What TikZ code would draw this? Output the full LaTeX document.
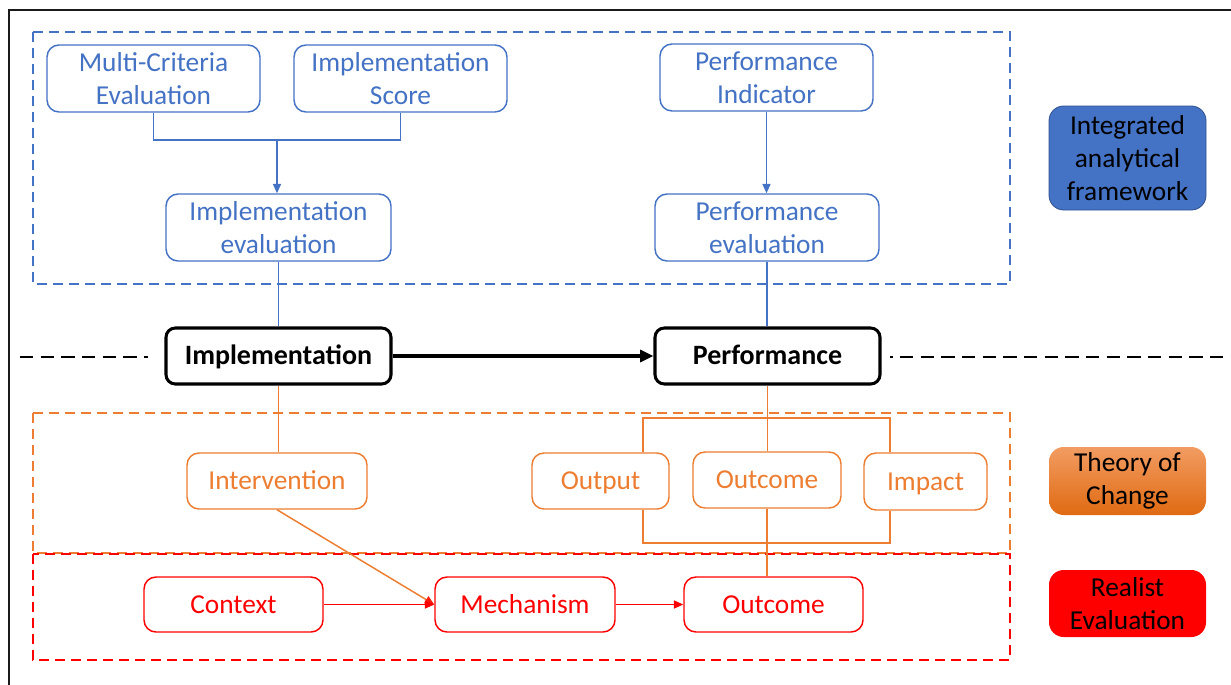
\documentclass[tikz,border=0pt]{standalone}
\usepackage{fontspec}
\setmainfont{Carlito}
\usetikzlibrary{arrows.meta}
\definecolor{fwblue}{HTML}{4472C4}
\definecolor{fwblueedge}{HTML}{2F528F}
\definecolor{tocorange}{HTML}{ED7D31}
\definecolor{toctop}{HTML}{F29C62}
\definecolor{tocbot}{HTML}{E06A12}
\definecolor{rered}{HTML}{FF0000}
\definecolor{framegray}{HTML}{1A1A1A}
\tikzset{
  lbl/.style={font=\fontsize{20.5}{24.8}\selectfont, align=center, inner sep=0pt},
  oneline/.style={text height=16pt, text depth=3pt},
  bluebox/.style={lbl, draw=fwblue, text=fwblue, line width=1.1pt, rounded corners=9pt, fill=white},
  orangebox/.style={lbl, oneline, draw=tocorange, text=tocorange, line width=1.1pt, rounded corners=9pt, fill=white},
  redbox/.style={lbl, oneline, draw=rered, text=rered, line width=1.1pt, rounded corners=9pt, fill=white},
  corebox/.style={lbl, oneline, font=\fontsize{21}{24}\selectfont\bfseries, draw=black, line width=2.3pt, rounded corners=7pt, fill=white},
  legendbox/.style={lbl, text=black, rounded corners=11pt, minimum width=117.75pt},
  group/.style={line width=1.5pt, dash pattern=on 7.5pt off 4.5pt},
  blueline/.style={fwblue, line width=1.1pt},
  orangeline/.style={tocorange, line width=1.1pt},
  redline/.style={rered, line width=1.1pt},
  divider/.style={black, line width=1.7pt},
  tip/.style={-{Triangle[length=7pt,width=6pt]}},
}
\begin{document}
\begin{tikzpicture}[x=0.75pt, y=-0.75pt]
\useasboundingbox (0,0) rectangle (1231,685);

% outer frame (top and left edges)
\draw[framegray, line width=1.6pt] (9,685) -- (9,10) -- (1231,10);

% group frames
\draw[group, fwblue] (33,32) rectangle (1010,284);
\draw[group, tocorange] (33,413) rectangle (1010,553);
\draw[group, rered] (33,554) rectangle (1010,660);

% integrated analytical framework
\node[bluebox, minimum width=159.75pt, minimum height=50.25pt] (mce) at (153.5,78.5) {Multi-Criteria\\Evaluation};
\node[bluebox, minimum width=159.75pt, minimum height=50.25pt] (isc) at (400.5,78.5) {Implementation\\Score};
\node[bluebox, minimum width=159.75pt, minimum height=50.25pt] (pi) at (766.5,77.5) {Performance\\Indicator};
\node[bluebox, minimum width=168.75pt, minimum height=50.25pt] (ie) at (278.5,227.5) {Implementation\\evaluation};
\node[bluebox, minimum width=168pt, minimum height=50.25pt] (pe) at (767,227.5) {Performance\\evaluation};

% core concepts
\node[corebox, minimum width=168.75pt, minimum height=42pt] (impl) at (278.5,356) {Implementation};
\node[corebox, minimum width=168.75pt, minimum height=42pt] (perf) at (767.5,356) {Performance};

% theory of change
\node[orangebox, minimum width=135pt, minimum height=42pt] (int) at (277,481) {Intervention};
\node[orangebox, minimum width=102.75pt, minimum height=42pt] (outp) at (600.5,481) {Output};
\node[orangebox, minimum width=111pt, minimum height=42pt] (outc) at (767,480) {Outcome};
\node[orangebox, minimum width=92.25pt, minimum height=42.75pt] (imp) at (925.5,481.5) {Impact};

% realist evaluation
\node[redbox, minimum width=134.25pt, minimum height=41.25pt] (ctx) at (233.5,604.5) {Context};
\node[redbox, minimum width=135pt, minimum height=41.25pt] (mech) at (525,604.5) {Mechanism};
\node[redbox, minimum width=134.25pt, minimum height=41.25pt] (reo) at (773.5,604.5) {Outcome};

% legend
\node[legendbox, draw=fwblueedge, line width=0.6pt, fill=fwblue, minimum height=78pt] (lgA) at (1127.5,158) {Integrated\\analytical\\framework};
\node[legendbox, top color=toctop, bottom color=tocbot, minimum height=51pt] (lgB) at (1127.5,481) {Theory of\\Change};
\node[legendbox, fill=rered, minimum height=50.25pt] (lgC) at (1127.5,603.5) {Realist\\Evaluation};

% divider between the two layers
\coordinate (dA) at (20,357);
\coordinate (dB) at (148,357);
\coordinate (dC) at (890,357);
\coordinate (dE) at (893,357);
\coordinate (dF) at (900,357);
\coordinate (dD) at (1231,357);
\draw[divider, dash pattern=on 10pt off 5.5pt] (dA) -- (dB);
\draw[divider] (dC) -- (dE);
\draw[divider, dash pattern=on 10pt off 5.5pt] (dF) -- (dD);

% framework connectors
\coordinate (join) at (277,140);
\draw[blueline] (mce.south) |- (join) -| (isc.south);
\draw[blueline, tip] (join) -- (join |- ie.north);
\draw[blueline, tip] (pi.south) -- (pi.south |- pe.north);
\draw[blueline] (ie.south) -- (ie.south |- impl.north);
\draw[blueline] (pe.south) -- (pe.south |- perf.north);

% implementation leads to performance
\draw[black, line width=2.3pt, -{Triangle[length=10pt,width=9pt]}] (impl.east) -- (perf.west);

% theory of change connectors
\draw[orangeline] (impl.south) -- (impl.south |- int.north);
\coordinate (brTL) at (643,418);
\coordinate (brTR) at (890,418);
\coordinate (brBL) at (643,543);
\coordinate (brBR) at (890,543);
\draw[orangeline] (brTL |- outp.north) -- (brTL) -- (brTR) -- (brTR |- imp.north);
\draw[orangeline] (brBL |- outp.south) -- (brBL) -- (brBR) -- (brBR |- imp.south);
\draw[orangeline] (perf.south) -- (perf.south |- outc.north);
\draw[orangeline] (outc.south) -- (outc.south |- reo.north);
\draw[orangeline, -{Triangle[length=7pt,width=6pt,color=rered!80!tocorange]}] (int.south) -- (mech.west);

% realist evaluation chain
\draw[redline, tip] (ctx.east) -- (mech.west);
\draw[redline, tip] (mech.east) -- (reo.west);
\end{tikzpicture}
\end{document}
